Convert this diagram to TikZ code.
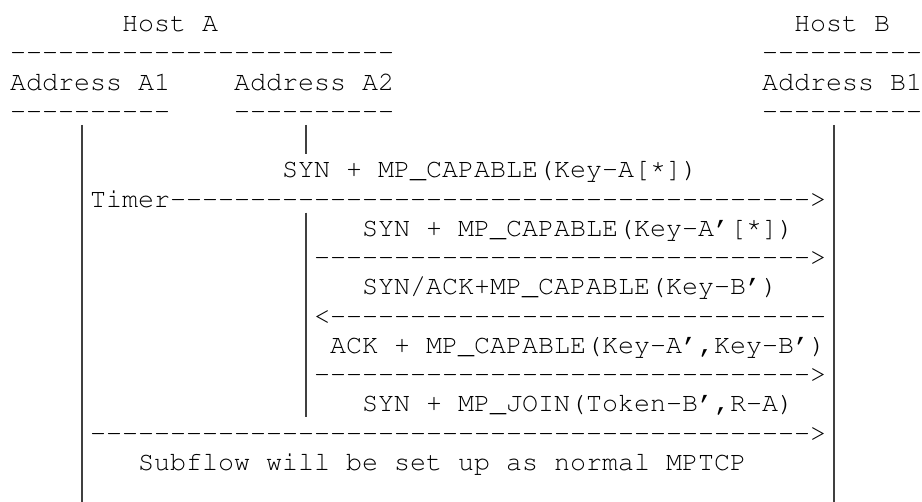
\documentclass[tikz,border=0pt]{standalone}
\usepackage[T1]{fontenc}
\usepackage{pdfrender}
\renewcommand\ttdefault{pcr}
% a run of n single hyphens, kept apart so no ligature forms
\newcommand\dashrun[1]{\foreach\k in {1,...,#1}{-}}
% a raised asterisk, as typewriters set it
\newcommand\upstar{\raisebox{0.16em}{*}}
% column and row positions of the character grid
\newcommand\cx[1]{10+16*#1}
\newcommand\ry[1]{31.7+29.25*#1}
\tikzset{
  txt/.style={anchor=base west, inner sep=0pt, outer sep=0pt,
    font=\ttfamily\fontsize{26.667}{29.25}\selectfont,
    execute at begin node={\pdfrender{TextRenderingMode=2,LineWidth=0.7pt}}},
  life/.style={line width=1.5pt, draw=black!75}
}
\begin{document}
\begin{tikzpicture}[x=1pt,y=-1pt]
\fill[white] (0,0) rectangle (922,502);
\useasboundingbox (0,0) rectangle (922,502);

% hosts and their addresses
\node[txt] (hostA)  at ({\cx{7}},{\ry{0}}) {Host A};
\node[txt] (hostB)  at ({\cx{49}},{\ry{0}}) {Host B};
\node[txt] (ruleA)  at ({\cx{0}},{\ry{1}}) {\dashrun{24}};
\node[txt] (ruleB)  at ({\cx{47}},{\ry{1}}) {\dashrun{10}};
\node[txt] (addrA1) at ({\cx{0}},{\ry{2}}) {Address A1};
\node[txt] (addrA2) at ({\cx{14}},{\ry{2}}) {Address A2};
\node[txt] (addrB1) at ({\cx{47}},{\ry{2}}) {Address B1};
\node[txt] (ruleA1) at ({\cx{0}},{\ry{3}}) {\dashrun{10}};
\node[txt] (ruleA2) at ({\cx{14}},{\ry{3}}) {\dashrun{10}};
\node[txt] (ruleB1) at ({\cx{47}},{\ry{3}}) {\dashrun{10}};

% lifelines
\coordinate (a1top)  at (82,125);
\coordinate (a1end)  at (82,502);
\coordinate (a2top)  at (306,125);
\coordinate (a2gap)  at (306,154.25);
\coordinate (a2back) at (306,212.75);
\coordinate (a2end)  at (306,417.5);
\coordinate (b1top)  at (834,125);
\coordinate (b1end)  at (834,502);
\draw[life] (a1top) -- (a1end);
\draw[life] (a2top) -- (a2gap);
\draw[life] (a2back) -- (a2end);
\draw[life] (b1top) -- (b1end);

% messages
\node[txt] (msg1)   at ({\cx{17}},{\ry{5}}) {SYN + MP\_CAPABLE(Key-A[\upstar])};
\node[txt] (timer)  at ({\cx{5}},{\ry{6}}) {Timer};
\node[txt] (arr1)   at ({\cx{10}},{\ry{6}}) {\dashrun{40}>};
\node[txt] (msg2)   at ({\cx{22}},{\ry{7}}) {SYN + MP\_CAPABLE(Key-A'[\upstar])};
\node[txt] (arr2)   at ({\cx{19}},{\ry{8}}) {\dashrun{31}>};
\node[txt] (msg3)   at ({\cx{22}},{\ry{9}}) {SYN/ACK+MP\_CAPABLE(Key-B')};
\node[txt] (arr3)   at ({\cx{19}},{\ry{10}}) {<\dashrun{31}};
\node[txt] (msg4)   at ({\cx{20}},{\ry{11}}) {ACK + MP\_CAPABLE(Key-A',Key-B')};
\node[txt] (arr4)   at ({\cx{19}},{\ry{12}}) {\dashrun{31}>};
\node[txt] (msg5)   at ({\cx{22}},{\ry{13}}) {SYN + MP\_JOIN(Token-B',R-A)};
\node[txt] (arr5)   at ({\cx{5}},{\ry{14}}) {\dashrun{45}>};
\node[txt] (note)   at ({\cx{8}},{\ry{15}}) {Subflow will be set up as normal MPTCP};
\end{tikzpicture}
\end{document}
